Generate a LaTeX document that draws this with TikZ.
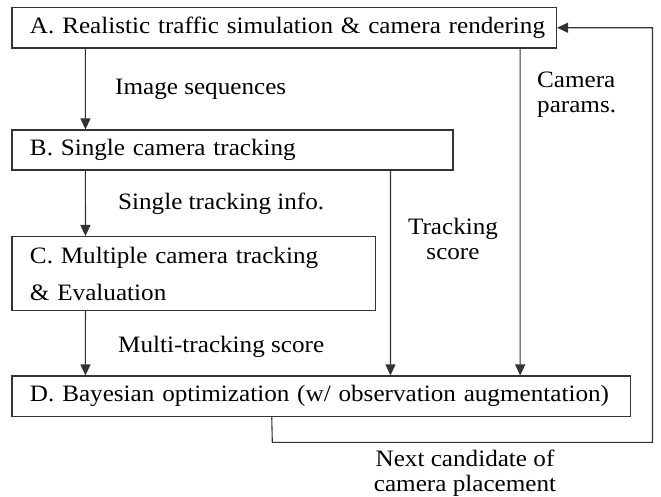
\documentclass[tikz,border=0pt]{standalone}
\usepackage{fontspec}
\setmainfont[FakeStretch=1.07]{Liberation Serif}
\usetikzlibrary{arrows.meta}
\hbadness=10000 \hfuzz=100pt
\begin{document}
\begin{tikzpicture}[x=1bp,y=-1bp,
  every node/.style={font=\fontsize{23.5bp}{25bp}\selectfont},
  box/.style={draw=black!80, line width=1.1bp, rectangle, inner xsep=18bp, inner ysep=0bp, align=left},
  arr/.style={draw=black!80, line width=1.1bp, -{Triangle[length=11bp,width=10bp]}},
  lbl/.style={inner sep=0bp, anchor=base west},
  lblc/.style={inner sep=0bp, anchor=base, align=center}
]
\useasboundingbox (0,0) rectangle (661,497);
\node[box, minimum height=40.5bp, text width=508.5bp] (A) at (284.25,27.75) {\mbox{A. Realistic traffic simulation \& camera rendering}};
\node[box, minimum height=40bp, text width=405bp] (B) at (232.5,150) {\mbox{B. Single camera tracking}};
\node[box, minimum height=74bp, text width=327.7bp, font=\fontsize{23.5bp}{37bp}\selectfont] (C) at (193.85,273.5) {\mbox{C. Multiple camera tracking}\\\& Evaluation};
\node[box, minimum height=40.7bp, text width=582.7bp] (D) at (321.35,396.35) {\mbox{D. Bayesian optimization (w/ observation augmentation)}};

\draw[arr] ([xshift=74bp]A.south west) -- ([xshift=74bp]B.north west);
\draw[arr] ([xshift=74bp]B.south west) -- ([xshift=74bp]C.north west);
\draw[arr] ([xshift=74bp]C.south west) -- ([xshift=74bp]D.north west);
\draw[arr] ([xshift=379bp]B.south west) -- ([xshift=379bp]D.north west);
\draw[arr] ([xshift=508.7bp]A.south west) -- ([xshift=508.7bp]D.north west);
\coordinate (L1) at (272.3,442.3);
\coordinate (L2) at (652.5,442.3);
\draw[arr] ([xshift=260.3bp]D.south west) -- (L1) -- (L2) |- (A.east);

\node[lbl] (l1) at (115,95) {Image sequences};
\node[lbl] (l2) at (118,210) {Single tracking info.};
\node[lbl] (l3) at (118,352) {Multi-tracking score};
\node[lbl, align=left, anchor=north west] (l4) at (537,72) {Camera\\params.};
\node[lblc, anchor=north] (l5) at (453,218) {Tracking\\score};
\node[lblc, anchor=north] (l6) at (465,450) {Next candidate of\\camera placement};
\end{tikzpicture}
\end{document}
